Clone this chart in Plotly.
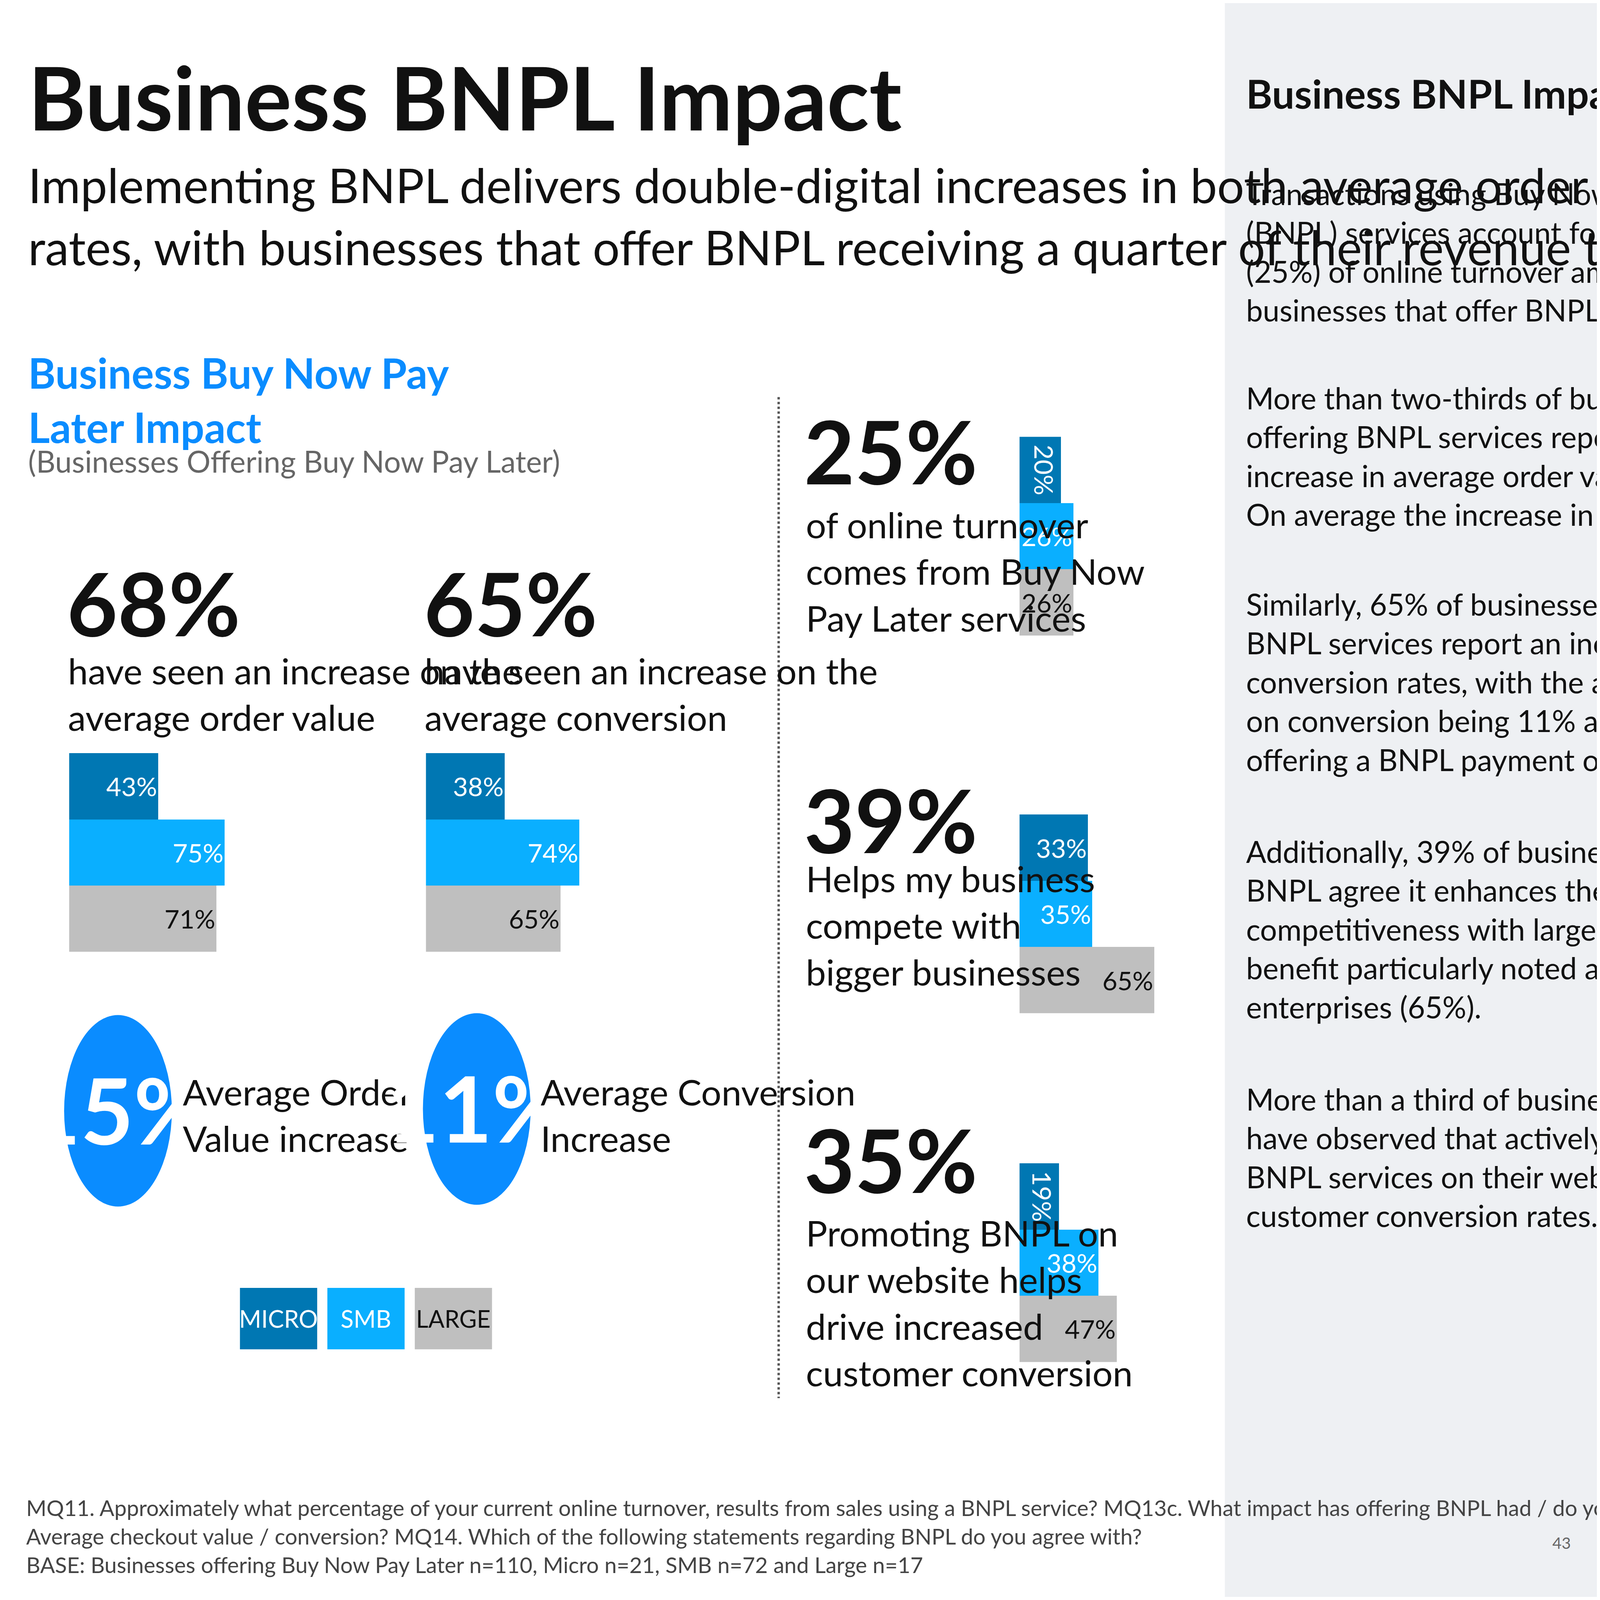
import plotly.graph_objects as go

W, H = 8000, 4500
S = W / 1568.0  # reference sketched in 1568x882 units


def px(x):
    return x / 1568.0


def py(y):
    return 1 - y / 882.0


segments = ["MICRO", "SMB", "LARGE"]
colors = ["#0077B3", "#0AAFFF", "#BFBFBF"]
text_colors = ["white", "white", "#111111"]

aov_values = [43, 75, 71]
conv_values = [38, 74, 65]
turnover_values = [20, 26, 26]
compete_values = [33, 35, 65]
promote_values = [19, 38, 47]

# (values, left, top) in sketch units
charts = [
    (aov_values, 65, 415),
    (conv_values, 416, 415),
    (turnover_values, 1000, 240),
    (compete_values, 1000, 449),
    (promote_values, 1000, 642),
]

FONT = "Lato"
fig = go.Figure()
layout_axes = {}
for i, (vals, left, top) in enumerate(charts):
    n = "" if i == 0 else str(i + 1)
    for j, seg in enumerate(segments):
        fig.add_trace(go.Bar(
            x=[vals[j]], y=[seg], orientation="h",
            marker=dict(color=colors[j], line=dict(width=0)),
            text=[f"{vals[j]}%"], textposition="inside", insidetextanchor="end",
            textfont=dict(color=text_colors[j], size=13 * S, family=FONT),
            xaxis="x" + n, yaxis="y" + n, showlegend=False, hoverinfo="skip",
        ))
    layout_axes["xaxis" + n] = dict(domain=[px(left), px(left + 204)], range=[0, 100],
                                   visible=False, anchor="y" + n)
    layout_axes["yaxis" + n] = dict(domain=[py(top + 110), py(top)], visible=False,
                                   categoryorder="array", categoryarray=segments[::-1],
                                   anchor="x" + n)

fig.update_layout(**layout_axes)

shapes = [
    dict(type="rect", xref="paper", yref="paper", x0=px(1202), x1=1, y0=0, y1=1,
         fillcolor="#EEF0F3", line=dict(width=0), layer="below"),
    dict(type="line", xref="paper", yref="paper", x0=px(763), x1=px(763), y0=py(218), y1=py(772),
         line=dict(color="#555555", width=1.2 * S, dash="dot")),
]
for cx, cy in [(113, 613), (466, 612)]:
    shapes.append(dict(type="circle", xref="paper", yref="paper",
                       x0=px(cx - 53), x1=px(cx + 53), y0=py(cy + 53), y1=py(cy - 53),
                       fillcolor="#0A8CFF", line=dict(width=0)))
for k, x0 in enumerate([233, 319, 405]):
    shapes.append(dict(type="rect", xref="paper", yref="paper",
                       x0=px(x0), x1=px(x0 + 76), y0=py(745), y1=py(711),
                       fillcolor=colors[k], line=dict(width=0)))

ann = []


def txt(x, y, s, size, color="#111111", bold=False, xanchor="left", yanchor="top", family=FONT):
    if bold:
        s = "<b>" + s + "</b>"
    ann.append(dict(x=px(x), y=py(y), xref="paper", yref="paper", text=s, showarrow=False,
                    xanchor=xanchor, yanchor=yanchor, align="left",
                    font=dict(size=size * S, color=color, family=family)))


for k, (x0, seg) in enumerate(zip([233, 319, 405], segments)):
    txt(x0 + 38, 728, seg, 12, color=text_colors[k], xanchor="center", yanchor="middle")

txt(24, 22, "Business BNPL Impact", 44, bold=True)
txt(24, 84, "Implementing BNPL delivers double-digital increases in both average order value and conversion<br>"
    "rates, with businesses that offer BNPL receiving a quarter of their revenue through these services", 24)
txt(24, 190, "Business Buy Now Pay<br>Later Impact", 21, color="#0A8CFF", bold=True)
txt(24, 243, "(Businesses Offering Buy Now Pay Later)", 15, color="#666666")

txt(62, 302, "68%", 44, bold=True)
txt(63, 357, "have seen an increase on the<br>average order value", 18)
txt(413, 302, "65%", 44, bold=True)
txt(414, 357, "have seen an increase on the<br>average conversion", 18)

txt(113, 612, "15%", 46, color="white", bold=True, xanchor="center", yanchor="middle")
txt(176, 590, "Average Order<br>Value increase", 18)
txt(466, 611, "11%", 46, color="white", bold=True, xanchor="center", yanchor="middle")
txt(528, 590, "Average Conversion<br>Increase", 18)

txt(787, 218, "25%", 44, bold=True)
txt(789, 276, "of online turnover<br>comes from Buy Now<br>Pay Later services", 18)
txt(787, 422, "39%", 44, bold=True)
txt(789, 472, "Helps my business<br>compete with<br>bigger businesses", 18)
txt(787, 610, "35%", 44, bold=True)
txt(789, 668, "Promoting BNPL on<br>our website helps<br>drive increased<br>customer conversion", 18)

txt(22, 825, "MQ11. Approximately what percentage of your current online turnover, results from sales using a BNPL service? "
    "MQ13c. What impact has offering BNPL had / do you think offering BNPL would have on the<br>"
    "Average checkout value / conversion? MQ14. Which of the following statements regarding BNPL do you agree with?<br>"
    "BASE: Businesses offering Buy Now Pay Later n=110, Micro n=21, SMB n=72 and Large n=17", 11, color="#444444")
txt(1543, 852, "43", 8, color="#666666", xanchor="right", yanchor="middle")

txt(1222, 36, "Business BNPL Impact", 20, bold=True)
side = [
    (95, "Transactions using Buy Now, Pay Later<br>(BNPL) services account for a quarter<br>"
         "(25%) of online turnover among<br>businesses that offer BNPL services."),
    (208, "More than two-thirds of businesses (68%)<br>offering BNPL services report seeing an<br>"
          "increase in average order value (AOV).<br>On average the increase in AOV is 15%."),
    (322, "Similarly, 65% of businesses providing<br>BNPL services report an increase in<br>"
          "conversion rates, with the average uplift<br>on conversion being 11% as a result of<br>"
          "offering a BNPL payment option."),
    (459, "Additionally, 39% of businesses that offer<br>BNPL agree it enhances their<br>"
          "competitiveness with larger companies\u2014a<br>benefit particularly noted among large<br>"
          "enterprises (65%)."),
    (596, "More than a third of businesses (35%)<br>have observed that actively promoting<br>"
          "BNPL services on their website also boosts<br>customer conversion rates."),
]
for y, s in side:
    txt(1222, y, s, 15)

fig.update_layout(
    autosize=True, margin=dict(l=0, r=0, t=0, b=0),
    paper_bgcolor="white", plot_bgcolor="rgba(0,0,0,0)",
    barmode="group", bargap=0, bargroupgap=0,
    shapes=shapes, annotations=ann, showlegend=False,
)
fig.write_html("out.html")
